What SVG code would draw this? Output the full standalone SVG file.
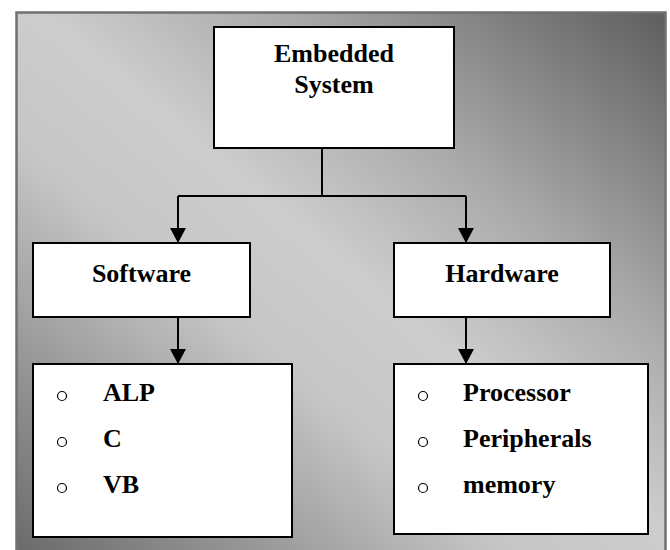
<svg xmlns="http://www.w3.org/2000/svg" width="670" height="550" viewBox="0 0 670 550">
<defs>
<linearGradient id="bg" x1="1" y1="0" x2="0" y2="1">
<stop offset="0" stop-color="#5e5e5e"/>
<stop offset="0.3" stop-color="#aaaaaa"/>
<stop offset="0.48" stop-color="#cdcdcd"/>
<stop offset="0.62" stop-color="#c6c6c6"/>
<stop offset="1" stop-color="#6a6a6a"/>
</linearGradient>
<marker id="arr" markerWidth="16" markerHeight="16" viewBox="0 0 16 16" refX="15" refY="8" orient="auto" markerUnits="userSpaceOnUse">
<path d="M0,0 L15,8 L0,16 Z" fill="#000"/>
</marker>
<style>
.box{fill:#fff;stroke:#000;stroke-width:2}
.t{font-family:"Liberation Serif","Times New Roman",serif;font-weight:bold;font-size:26px;fill:#000}
.c{text-anchor:middle}
.b{fill:none;stroke:#000;stroke-width:1.2}
.ln{fill:none;stroke:#000;stroke-width:2}
</style>
</defs>
<rect x="0" y="0" width="670" height="550" fill="#fff"/>
<rect x="16.5" y="12.5" width="649" height="540" fill="url(#bg)" stroke="#707070" stroke-width="2.5"/>
<g id="connectors">
<path class="ln" d="M322,148 V196 M178,196 H466"/>
<path class="ln" d="M178,196 V243" marker-end="url(#arr)"/>
<path class="ln" d="M466,196 V243" marker-end="url(#arr)"/>
<path class="ln" d="M178,317 V364" marker-end="url(#arr)"/>
<path class="ln" d="M466,317 V364" marker-end="url(#arr)"/>
</g>
<g id="embedded">
<rect class="box" x="214" y="27" width="240" height="121"/>
<text class="t c" x="334" y="62">Embedded</text>
<text class="t c" x="334" y="93">System</text>
</g>
<g id="software">
<rect class="box" x="33" y="243" width="217" height="74"/>
<text class="t c" x="141.5" y="282">Software</text>
</g>
<g id="hardware">
<rect class="box" x="394" y="243" width="216" height="74"/>
<text class="t c" x="502" y="282">Hardware</text>
</g>
<g id="software-list">
<rect class="box" x="33" y="364" width="259" height="173"/>
<circle class="b" cx="62" cy="396" r="4.5"/>
<circle class="b" cx="62" cy="442" r="4.5"/>
<circle class="b" cx="62" cy="488" r="4.5"/>
<text class="t" x="103" y="401">ALP</text>
<text class="t" x="103" y="447">C</text>
<text class="t" x="103" y="493">VB</text>
</g>
<g id="hardware-list">
<rect class="box" x="394" y="364" width="254" height="170"/>
<circle class="b" cx="423" cy="396" r="4.5"/>
<circle class="b" cx="423" cy="442" r="4.5"/>
<circle class="b" cx="423" cy="488" r="4.5"/>
<text class="t" x="463" y="401">Processor</text>
<text class="t" x="463" y="447">Peripherals</text>
<text class="t" x="463" y="493">memory</text>
</g>
</svg>
